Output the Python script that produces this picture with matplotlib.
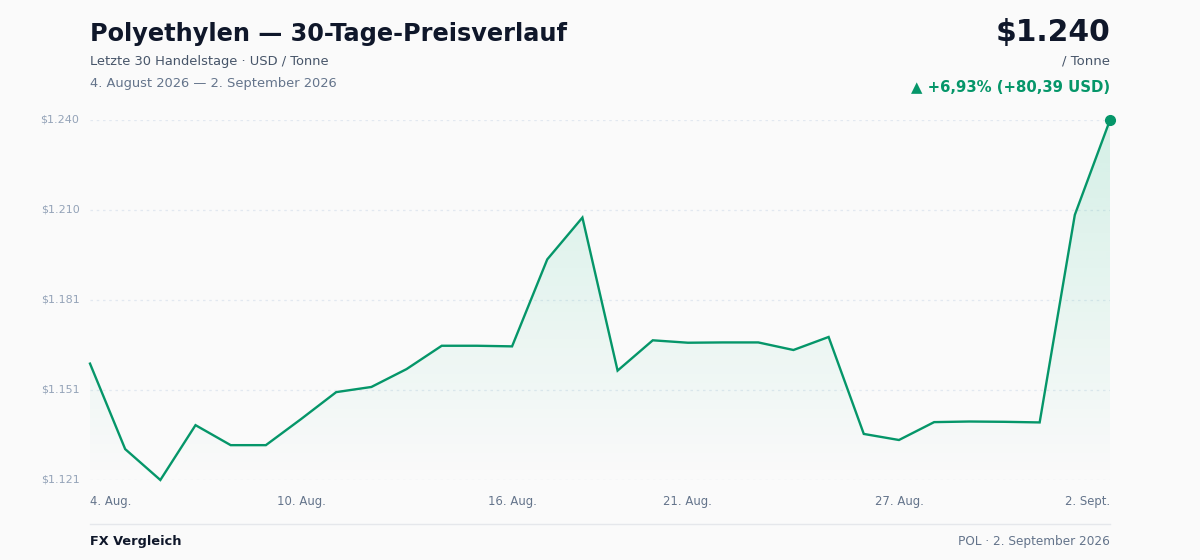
import numpy as np
import matplotlib
matplotlib.use("Agg")
import matplotlib.pyplot as plt

# Preisdaten Polyethylen (USD / Tonne), 4. Aug - 2. Sept 2026
preise = [1159.61, 1131.4, 1121.2, 1139.3, 1132.7, 1132.7, 1141.3, 1150.2, 1151.9, 1157.8,
          1165.5, 1165.5, 1165.3, 1194.0, 1207.8, 1157.3, 1167.3, 1166.5, 1166.6, 1166.6,
          1164.1, 1168.4, 1136.4, 1134.4, 1140.3, 1140.5, 1140.4, 1140.2, 1208.7, 1240.0]
tick_idx = [0, 6, 12, 17, 23, 29]
tick_labels = ["4. Aug.", "10. Aug.", "16. Aug.", "21. Aug.", "27. Aug.", "2. Sept."]

GREEN = "#059669"
BG = "#fafafa"

def fmt_usd(v):
    return "$" + f"{v:,.0f}".replace(",", ".")

x = np.arange(len(preise))
y = np.array(preise)
ymin, ymax = y.min(), y.max()

fig = plt.figure(figsize=(12, 5.6), dpi=100, facecolor=BG)
ax = fig.add_axes([90 / 1200, 1 - 480 / 560, 1020 / 1200, 360 / 560])
ax.set_facecolor(BG)
ax.set_xlim(0, len(preise) - 1)
ax.set_ylim(ymin, ymax)

# Gitter + y-Beschriftung
yticks = np.linspace(ymin, ymax, 5)
for t in yticks:
    ax.axhline(t, color="#e2e8f0", lw=0.9, ls=(0, (2, 3)), zorder=0)
    ax.text(-0.3, t, fmt_usd(t), ha="right", va="center", fontsize=8, color="#94a3b8")

# Verlauf-Fuellung unter der Linie
grad = np.linspace(0.0, 0.16, 256).reshape(-1, 1)
rgba = np.zeros((256, 1, 4))
rgba[..., :3] = matplotlib.colors.to_rgb("#10b981")
rgba[..., 3] = grad
poly = ax.fill_between(x, y, ymin, color="none", lw=0)
img = ax.imshow(rgba, extent=[0, len(preise) - 1, ymin, ymax], origin="lower",
                aspect="auto", zorder=1)
img.set_clip_path(poly.get_paths()[0], transform=ax.transData)

ax.plot(x, y, color=GREEN, lw=1.7, zorder=3, clip_on=False, solid_joinstyle="miter")
ax.plot(x[-1], y[-1], "o", color=GREEN, ms=7, zorder=4, clip_on=False)

for spine in ax.spines.values():
    spine.set_visible(False)
ax.set_xticks([])
ax.set_yticks([])

# x-Beschriftung unterhalb des Diagramms
xtrans = matplotlib.transforms.blended_transform_factory(ax.transData, fig.transFigure)
for i, lab in zip(tick_idx, tick_labels):
    ha = "left" if i == tick_idx[0] else ("right" if i == tick_idx[-1] else "center")
    ax.text(i, 1 - 501 / 560, lab, ha=ha, va="center", fontsize=8.4, color="#64748b",
            transform=xtrans)

# Kopfzeile
fig.text(90 / 1200, 1 - 34 / 560, "Polyethylen — 30-Tage-Preisverlauf", fontsize=17.3,
         fontweight="bold", color="#0f172a", va="center")
fig.text(90 / 1200, 1 - 61 / 560, "Letzte 30 Handelstage · USD / Tonne", fontsize=9.4,
         color="#475569", va="center")
fig.text(90 / 1200, 1 - 83 / 560, "4. August 2026 — 2. September 2026", fontsize=9.4,
         color="#64748b", va="center")

aenderung = y[-1] - y[0]
prozent = aenderung / y[0] * 100
fig.text(1110 / 1200, 1 - 32 / 560, fmt_usd(y[-1]), fontsize=21.4, fontweight="bold",
         color="#0f172a", ha="right", va="center")
fig.text(1110 / 1200, 1 - 61 / 560, "/ Tonne", fontsize=9.5, color="#475569",
         ha="right", va="center")
fig.text(1110 / 1200, 1 - 87 / 560,
         f"▲ +{prozent:.2f}% (+{aenderung:.2f} USD)".replace(".", ","),
         fontsize=10.7, fontweight="bold", color=GREEN, ha="right", va="center")

# Fusszeile
fig.add_artist(plt.Line2D([90 / 1200, 1110 / 1200], [1 - 524 / 560] * 2,
                          color="#e5e7eb", lw=1))
fig.text(90 / 1200, 1 - 541 / 560, "FX Vergleich", fontsize=9.3, fontweight="bold",
         color="#0f172a", va="center")
fig.text(1110 / 1200, 1 - 541 / 560, "POL · 2. September 2026", fontsize=8.7,
         color="#64748b", ha="right", va="center")

fig.savefig("out.png", dpi=100, facecolor=BG)
